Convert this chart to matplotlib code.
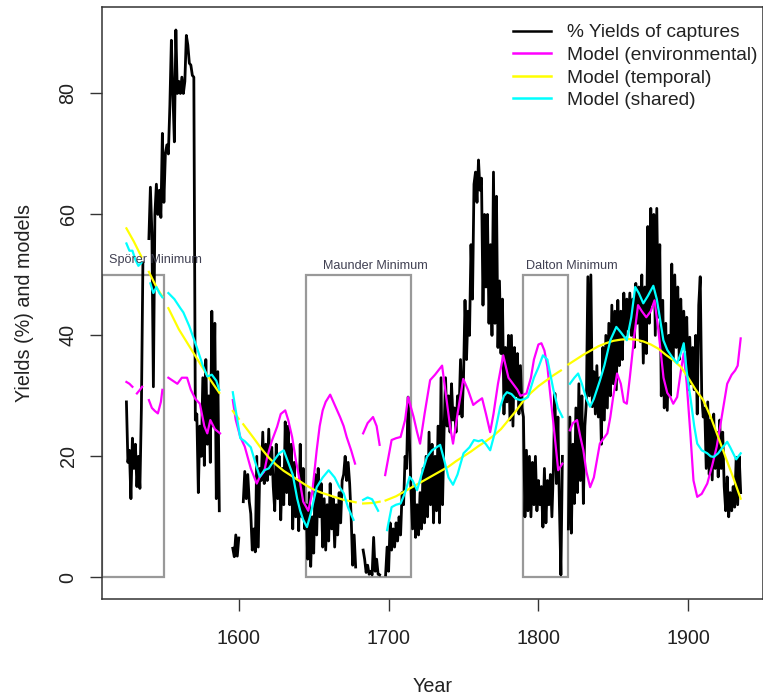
import numpy as np
import matplotlib
matplotlib.use("Agg")
import matplotlib.pyplot as plt
from matplotlib.patches import Rectangle

plt.rcParams['font.family'] = ['Liberation Sans', 'DejaVu Sans']
nan = np.nan

# ---------------- data ----------------
black_years = np.arange(1525, 1936)
black_values = [
    29, 19, 21, 13, 23,
    18, 22, 15, 20, 14.7, 28, 52, nan, nan, nan,
    56, 64.5, 57, 31.5, 60, 65, 60, 64, 59.5, 73.4,
    62, 70, 71.5, 70, 78, 88.8, 80, 72, 90.5, 80,
    82, 80, 82.7, 80, 82, 89.6, 88, 85, 84.7, 83,
    82.7, 26, 27, 14, 25, 20, 33, 18.5, 36, 22,
    30, 19, 44, 25, 42, 13, 34, 11, nan, nan,
    nan, nan, nan, nan, nan, nan, 4.8, 3.4, 7, 3.5,
    6.5, nan, nan, 12.5, 17.5, 13, 17, 12.5, 10.5, 4.5,
    8, 4.2, 20, 5, 18, 16, 24, 15.5, 22, 16,
    24.5, 17, 21.5, 15, 11, 22, 13, 20, 9.5, 18,
    12, 25.7, 14, 25, 12, 22, 8, 19, 10, 16,
    7.7, 22, 10, 18, 8, 12, 3, 14, 1.8, 10,
    4, 17, 7, 18, 10, 15.5, 5, 13, 4.5, 12,
    6, 15.5, 8, 13, 5, 12, 7, 14, 9, 16,
    17, 20, 16, 19, 15.5, 10, 2, 7, 1.7, nan,
    nan, nan, nan, 4.5, 3, 0.8, 2, 0.5, 1, 0.4,
    6.6, 1, 3, 0.5, 0.4, nan, nan, nan, 0.4, 5,
    1, 9, 4.5, 8, 5, 9, 6, 10, 7, 14,
    12, 20, 18, 29.8, 22, 14, 8, 15, 6.6, 12,
    7, 14, 8, 18, 9, 20, 10, 24, 12, 22,
    9, 20, 11, 25, 9, 33, 12, 24, 33, 25,
    30, 24, 32, 26, 28, 24, 30, 27, 36, 26.5,
    33, 45.8, 36, 44, 40, 55, 46, 65, 67, 62,
    69, 64, 66, 45, 60, 48, 60, 42, 55, 40,
    67, 42, 63, 38, 49, 37, 46, 27, 38, 29,
    40, 26, 40, 25, 38, 30, 37, 27, 35, 28,
    26.5, 10, 21, 11, 20, 10, 19, 12, 20, 11,
    16, 12, 15, 8.3, 18, 9, 16, 12, 17, 10,
    18, 30.4, 15.5, 26.5, 12, 0.4, 20, nan, nan, nan,
    8, 26.5, 7.3, 22, 12.2, 28, 14, 32, 16, 30,
    12.2, 25, 29, 49.7, 30, 50, 28.2, 34, 27, 35,
    26.5, 33, 22, 38, 26, 40, 28, 42, 30, 45,
    32, 44, 31, 45.8, 35, 44, 36, 47, 40, 46,
    41, 47, 40, 46, 38, 48.6, 42, 48, 39, 50,
    35.4, 48, 37, 58, 42, 61, 45, 60, 40, 61,
    43, 55, 30, 45.8, 28, 42, 27.6, 40, 30, 51.8,
    36, 50, 38, 48, 36, 46, 38, 44, 37.6, 43,
    31, 39.7, 32, 38, 31, 40, 27, 45, 49.7, 30,
    26.5, 28, 18, 29, 17, 26, 16.1, 27, 18, 24,
    16.6, 26, 18, 24, 15, 11, 16.6, 10, 14, 11,
    15, 11.6, 19.8, 12, 20, 14,
]

env_years = [1525, 1527, 1529, 1530.5, 1532, 1534, 1535.5, 1537, 1540, 1542, 1544, 1546, 1548, 1549,
             1551, 1553, 1556, 1559, 1562, 1565.5, 1568, 1571, 1574, 1577, 1579, 1581, 1584, 1587.5,
             1590, 1596, 1598, 1601, 1604, 1608, 1612, 1614, 1617, 1619, 1622, 1625.6, 1628, 1631,
             1633, 1635.6, 1638, 1641, 1643, 1646.4, 1649, 1652, 1654, 1656, 1658, 1661, 1664,
             1667.6, 1670, 1672, 1675, 1677.6, 1680, 1683, 1686, 1689.6, 1692, 1694, 1696, 1697.7,
             1700, 1702, 1705, 1708, 1711, 1713, 1715, 1716.7, 1719, 1721, 1724, 1727.7, 1731,
             1735.7, 1739, 1741, 1743, 1746, 1749.8, 1753, 1756.5, 1759, 1762.4, 1765, 1767.8,
             1770, 1773, 1776.5, 1780, 1783, 1786, 1788, 1792, 1795, 1797, 1800, 1802, 1804, 1806,
             1808, 1810, 1813.2, 1816, 1818, 1821, 1823, 1825.8, 1828, 1830, 1832, 1834.5, 1837,
             1841, 1846, 1848, 1850, 1852.5, 1855, 1857, 1859, 1861, 1864, 1866.5, 1869, 1872,
             1875, 1877.5, 1880, 1883.5, 1886, 1888, 1890, 1892.6, 1895, 1897, 1899, 1901.4,
             1903.5, 1906, 1909, 1912.7, 1916, 1919, 1922, 1926, 1929, 1931.3, 1933, 1935]
env_values = [32.3, 32, 31.5, nan, 30.4, 31, 31.5, nan, 29.3, 28, 27.5, 27.1, 29, 31,
              nan, 33, 32.5, 32, 33, 33, 31, 29.5, 28.7, 25, 23.8, 26, 24.5, 23.8,
              nan, 29.3, 26, 23.2, 21.6, 18, 15.5, 16.6, 17.5, 19.9, 22.5, 24.9, 27, 27.6,
              26, 23.2, 19.5, 15.5, 12.5, 11, 14, 21, 25, 27.6, 29, 30.2, 28.5,
              26.5, 25, 23.2, 21, 18.8, nan, 23.8, 25.5, 26.5, 25, 21.9, nan, 16.9,
              20, 22.7, 23, 23.2, 26, 29.8, 28, 26.5, 24, 22.1, 27, 32.6, 33.5,
              35, 28.7, 25, 22.1, 27, 32.8, 31, 28.5, 29, 29.6, 27, 24,
              27, 32, 36.7, 33, 32, 31, 30, 30.4, 33, 36, 38.5, 38.7, 37.5, 34.8,
              30, 25.4, 17.7, 18.8, nan, 24.3, 25.5, 26, 23.2, 21, 17.5, 14.9, 16.5,
              22.1, 23.8, 26.5, 30, 33.7, 32, 29, 28.7, 33, 40, 45, 44, 43,
              44, 45.8, 41, 33, 30.5, 29.8, 28.7, 29.8, 34, 37, 32, 23.8,
              16, 13.3, 13.8, 15.5, 18.5, 21.6, 26, 32, 33.5, 34.2, 35, 39.5]

temp_years = [1525, 1530, 1535, 1537, 1540, 1545, 1549, 1551, 1553, 1560, 1565, 1570, 1575, 1580,
              1587, 1590, 1596, 1600, 1601, 1603, 1610, 1615, 1620, 1625, 1630, 1635, 1640, 1645,
              1650, 1655, 1660, 1665, 1670, 1678, 1680, 1683, 1690, 1694, 1696, 1698, 1705, 1710,
              1715, 1720, 1725, 1730, 1735, 1740, 1745, 1750, 1755, 1760, 1765, 1770, 1775, 1780,
              1785, 1790, 1795, 1800, 1805, 1810, 1815, 1818, 1820, 1825, 1830, 1835, 1840, 1845,
              1850, 1855, 1860, 1865, 1870, 1875, 1880, 1885, 1890, 1895, 1900, 1905, 1910, 1915,
              1920, 1925, 1930, 1935]
temp_values = [57.7, 55.5, 53, nan, 50.5, 48, 46.4, nan, 44.5, 41, 39, 37, 35, 33,
               30.5, nan, 27.5, 26.2, nan, 25.3, 23, 21.3, 19.8, 18.6, 17.6, 16.8, 16, 15.2,
               14.5, 14, 13.6, 13.2, 12.8, 12.4, nan, 12.2, 12.3, 12.5, nan, 12.7, 13.4, 14.1,
               14.8, 15.5, 16.2, 16.9, 17.6, 18.3, 19.2, 20, 20.8, 21.7, 22.5, 23.4, 24.5, 26,
               27.5, 29.2, 30.5, 31.6, 32.5, 33.4, 34.2, nan, 35.2, 36, 36.8, 37.5, 38.2, 38.7,
               39.1, 39.3, 39.4, 39.3, 39, 38.5, 37.8, 36.8, 35.9, 34.8, 33, 31, 29.3, 26.5,
               23.2, 19.8, 16.5, 13]

shared_years = [1525, 1527, 1529, 1531, 1533, 1535, 1537, 1541, 1543, 1545, 1547, 1549, 1551, 1553,
                1557, 1561, 1563, 1567, 1572, 1576, 1579, 1582, 1585, 1587, 1590, 1596, 1599, 1601,
                1604, 1608, 1611, 1614, 1617, 1620, 1624, 1627, 1630, 1633, 1636, 1639, 1641, 1643,
                1645.5, 1648, 1652, 1656, 1660, 1664, 1667, 1670, 1673, 1676.6, 1680, 1683, 1686,
                1689, 1693, 1696, 1699, 1702, 1705, 1708, 1711, 1714, 1716, 1719, 1722, 1725.6, 1729,
                1732, 1734.4, 1737, 1740, 1743, 1746, 1750, 1754, 1757, 1760, 1762.4, 1765, 1767.8,
                1771, 1774.5, 1777, 1779, 1782, 1785, 1788, 1791, 1793, 1797, 1800, 1803, 1806, 1808,
                1810, 1813, 1816, 1818, 1821, 1824, 1826.5, 1829, 1832, 1834.5, 1837, 1841, 1844,
                1848, 1852, 1855, 1859, 1862, 1864.6, 1867, 1870, 1873, 1876.7, 1879, 1881, 1883.4,
                1886, 1889, 1892.6, 1895, 1897, 1899, 1901.4, 1904, 1906, 1909, 1912.7, 1915, 1917,
                1920, 1923, 1926, 1928, 1930, 1932, 1935]
shared_values = [55.2, 54, 54, 52.5, 51.5, 52, nan, 48.6, 47, 48, 47, 46.3, nan, 47,
                 46, 44.5, 43.8, 41.5, 38, 35, 33.2, 33.5, 32.5, 31, nan, 30.6, 26, 23,
                 22.5, 21.5, 19, 16.6, 17.7, 18, 19.5, 20.5, 21, 19, 17, 13, 11, 9.5,
                 8.3, 10.5, 14.9, 16.5, 17.7, 16.5, 15, 13.9, 11.5, 9.5, nan, 12.8, 13.2,
                 12.9, 11, nan, 7.8, 11.6, 12, 12.2, 14, 16.6, 16, 14.4, 17, 19.9, 21,
                 21.5, 21.9, 19.5, 16.5, 15.3, 17, 20.5, 21.5, 22.7, 22.5, 22.7, 22, 21,
                 24, 28.2, 30, 30.6, 30.3, 29.5, 29.3, 29.5, 29.8, 33, 34.7, 36.7, 36, 33.5,
                 31, 28, 26.5, nan, 32, 33, 33.7, 32, 29.5, 28.2, 29.5, 32.5, 35,
                 39.2, 41.4, 40.5, 39.2, 43, 48, 47, 45.3, 46.5, 48.2, 46, 43, 39.2,
                 37.6, 36.5, 35.4, 37, 38.7, 34, 29.8, 25, 22.1, 21, 20.5, 20, 19.9,
                 20.5, 21.5, 22.4, 21.5, 20.5, 19.5, 20.5]

minima_names = ["Sp\u00f6rer Minimum", "Maunder Minimum", "Dalton Minimum"]
minima_start = [1509, 1645, 1790]
minima_end = [1550, 1715, 1820]
minima_top = 50
minima_label_x = [1544.5, 1691.5, 1822]
minima_label_y = [51.9, 50.9, 50.9]

legend_labels = ["% Yields of captures", "Model (environmental)", "Model (temporal)", "Model (shared)"]
colors = ["black", "#FF00FF", "#FFFF00", "#00FFFF"]

# ---------------- figure ----------------
W, H = 763, 700
fig = plt.figure(figsize=(W / 100, H / 100), dpi=100)
ax = fig.add_axes([101.7 / W, 1 - 599.3 / H, (763 - 101.7) / W, (599.3 - 7) / H])
ax.set_xlim(1508.5, 1949.9)
ax.set_ylim(-3.64, 94.3)

for s, e, in zip(minima_start, minima_end):
    ax.add_patch(Rectangle((s, 0), e - s, minima_top, fill=False, edgecolor="#999999", lw=1.6, zorder=1))
for name, lx, ly in zip(minima_names, minima_label_x, minima_label_y):
    ax.text(lx, ly, name, ha="center", va="baseline", fontsize=9.1, color="#404052", zorder=5)

l1, = ax.plot(black_years, black_values, color=colors[0], lw=2.0, zorder=2)
l2, = ax.plot(env_years, env_values, color=colors[1], lw=1.6, zorder=3)
l3, = ax.plot(temp_years, temp_values, color=colors[2], lw=1.6, zorder=3)
l4, = ax.plot(shared_years, shared_values, color=colors[3], lw=1.6, zorder=4)

for sp in ax.spines.values():
    sp.set_color("#333333")
    sp.set_linewidth(1.1)

ax.set_xticks([1600, 1700, 1800, 1900])
ax.set_yticks([0, 20, 40, 60, 80])
ax.tick_params(axis="both", direction="out", length=8.4, width=1.0, color="#333333",
               labelsize=14.2, labelcolor="#222222")
ax.tick_params(axis="x", pad=13)
ax.tick_params(axis="y", pad=9)
for lab in ax.get_yticklabels():
    lab.set_rotation(90)
    lab.set_va("center")

ax.set_xlabel("Year", fontsize=14.2, color="#222222", labelpad=21)
ax.set_ylabel("Yields (%) and models", fontsize=14.2, color="#222222", labelpad=18)

leg = ax.legend([l1, l2, l3, l4], legend_labels, loc="upper left",
                bbox_to_anchor=(513 / W, 1 - 24 / H), bbox_transform=fig.transFigure,
                frameon=False, fontsize=13.8, handlelength=1.98, handletextpad=0.82,
                labelspacing=0.27, borderaxespad=0, borderpad=0)
for t in leg.get_texts():
    t.set_color("#222222")
for h in leg.get_lines():
    h.set_linewidth(1.8)

fig.savefig("out.png", dpi=100)
